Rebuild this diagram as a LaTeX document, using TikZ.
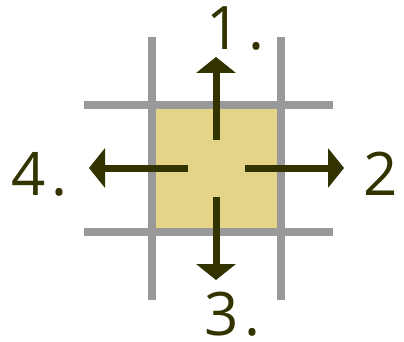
\documentclass[tikz,border=0pt]{standalone}
\usepackage{fontspec}
\setmainfont{Open Sans}
\usepackage{xcolor}
\usetikzlibrary{arrows.meta}

\definecolor{cellfill}{HTML}{E3D488}
\definecolor{gridgray}{HTML}{999999}
\definecolor{arrowdark}{HTML}{333300}
\newcommand{\numfont}{\fontsize{60}{60}\selectfont}

\begin{document}
\begin{tikzpicture}[
    x=1pt, y=-1pt,
    grid/.style={draw=gridgray, line width=8pt},
    arrow/.style={-{Triangle[length=16pt,width=39pt]}, draw=arrowdark, line width=7pt},
    num/.style={text=arrowdark, font=\numfont, inner sep=0pt, anchor=base west}
]
\useasboundingbox (0,0) rectangle (404,342);
% the cell
\node[fill=cellfill, minimum width=129pt, minimum height=127pt, inner sep=0pt] (cell) at (216.5,168.5) {};
% grid lines
\draw[grid] (152,37) -- (152,300);
\draw[grid] (281,37) -- (281,300);
\draw[grid] (84,105) -- (333,105);
\draw[grid] (84,232) -- (333,232);
% arrow ends
\coordinate (upstart) at (216,140);
\coordinate (upend) at (216,57);
\coordinate (rightstart) at (245,168);
\coordinate (rightend) at (344,168);
\coordinate (downstart) at (216,197);
\coordinate (downend) at (216,280);
\coordinate (leftstart) at (188,168);
\coordinate (leftend) at (89,168);
\draw[arrow] (upstart) -- (upend);
\draw[arrow] (rightstart) -- (rightend);
\draw[arrow] (downstart) -- (downend);
\draw[arrow] (leftstart) -- (leftend);
% labels
\node[num] (one) at (206,50) {1\kern8pt.};
\node[num] (two) at (363,195) {2};
\node[num] (three) at (204,335) {3\kern6pt.};
\node[num] (four) at (11,195) {4\kern6pt.};
\end{tikzpicture}
\end{document}
